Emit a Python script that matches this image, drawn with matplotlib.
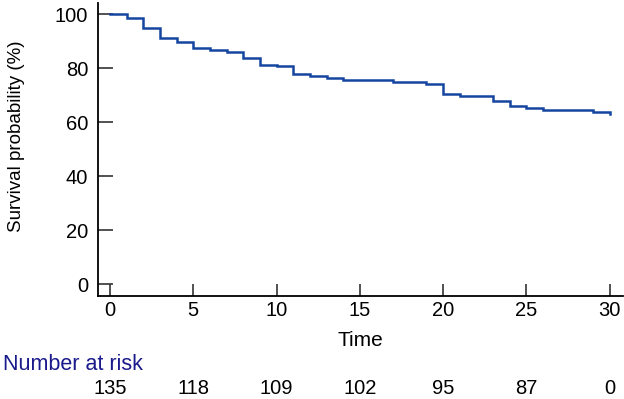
import matplotlib
matplotlib.use("Agg")
import matplotlib.pyplot as plt
import matplotlib.transforms as mtransforms

plt.rcParams['font.family'] = ['Liberation Sans', 'DejaVu Sans']

times = [0, 1, 2, 3, 4, 5, 6, 7, 8, 9, 10, 11, 12, 13, 14, 17, 19, 20, 21, 23, 24, 25, 26, 29, 30]
survival = [100, 98.6, 94.7, 91.0, 89.6, 87.3, 86.6, 85.9, 83.6, 81.2, 80.7, 77.8, 76.9, 76.2,
            75.6, 74.8, 74.1, 70.5, 69.6, 67.9, 65.8, 65.1, 64.3, 63.6, 63.0]
risk_times = [0, 5, 10, 15, 20, 25, 30]
risk_counts = [135, 118, 109, 102, 95, 87, 0]
yticks = [0, 20, 40, 60, 80, 100]

W, H = 624, 399
fig = plt.figure(figsize=(6.24, 3.99), dpi=100)
ax_left, ax_right, ax_top, ax_bottom = 98, 623, 3.2, 295.5
ax = fig.add_axes([ax_left / W, 1 - ax_bottom / H, (ax_right - ax_left) / W, (ax_bottom - ax_top) / H])
ax.step(times, survival, where='post', color='#1545a0', lw=1.8, solid_joinstyle='miter')

ax.set_xlim(-0.72, 30.8)
ax.set_ylim(-4.2, 104)
ax.set_xticks(risk_times)
ax.set_yticks(yticks)
for s in ['top', 'right']:
    ax.spines[s].set_visible(False)
for s in ['left', 'bottom']:
    ax.spines[s].set_linewidth(1.3)
ax.tick_params(direction='in', length=9, width=1.2, labelsize=14.5, pad=4, color='#333333')
ax.tick_params(axis='y', length=11, pad=7)
ax.set_xlabel('Time', fontsize=15)
ax.set_ylabel('Survival probability (%)', fontsize=13.5)
ax.xaxis.label.set_va('center')
ax.xaxis.set_label_coords(0.5, (ax_bottom - 340) / (ax_bottom - ax_top))
ax.yaxis.set_label_coords((25 - ax_left) / (ax_right - ax_left), (ax_bottom - 136) / (ax_bottom - ax_top))

trans = mtransforms.blended_transform_factory(ax.transData, fig.transFigure)
fig.text(3 / W, 1 - 365 / H, 'Number at risk', color='#1a1a8c', fontsize=15.5, va='center', ha='left')
for t, n in zip(risk_times, risk_counts):
    ax.text(t, 1 - 388 / H, str(n), transform=trans, fontsize=14.5, ha='center', va='center',
            clip_on=False)

fig.savefig('out.png', dpi=100)
